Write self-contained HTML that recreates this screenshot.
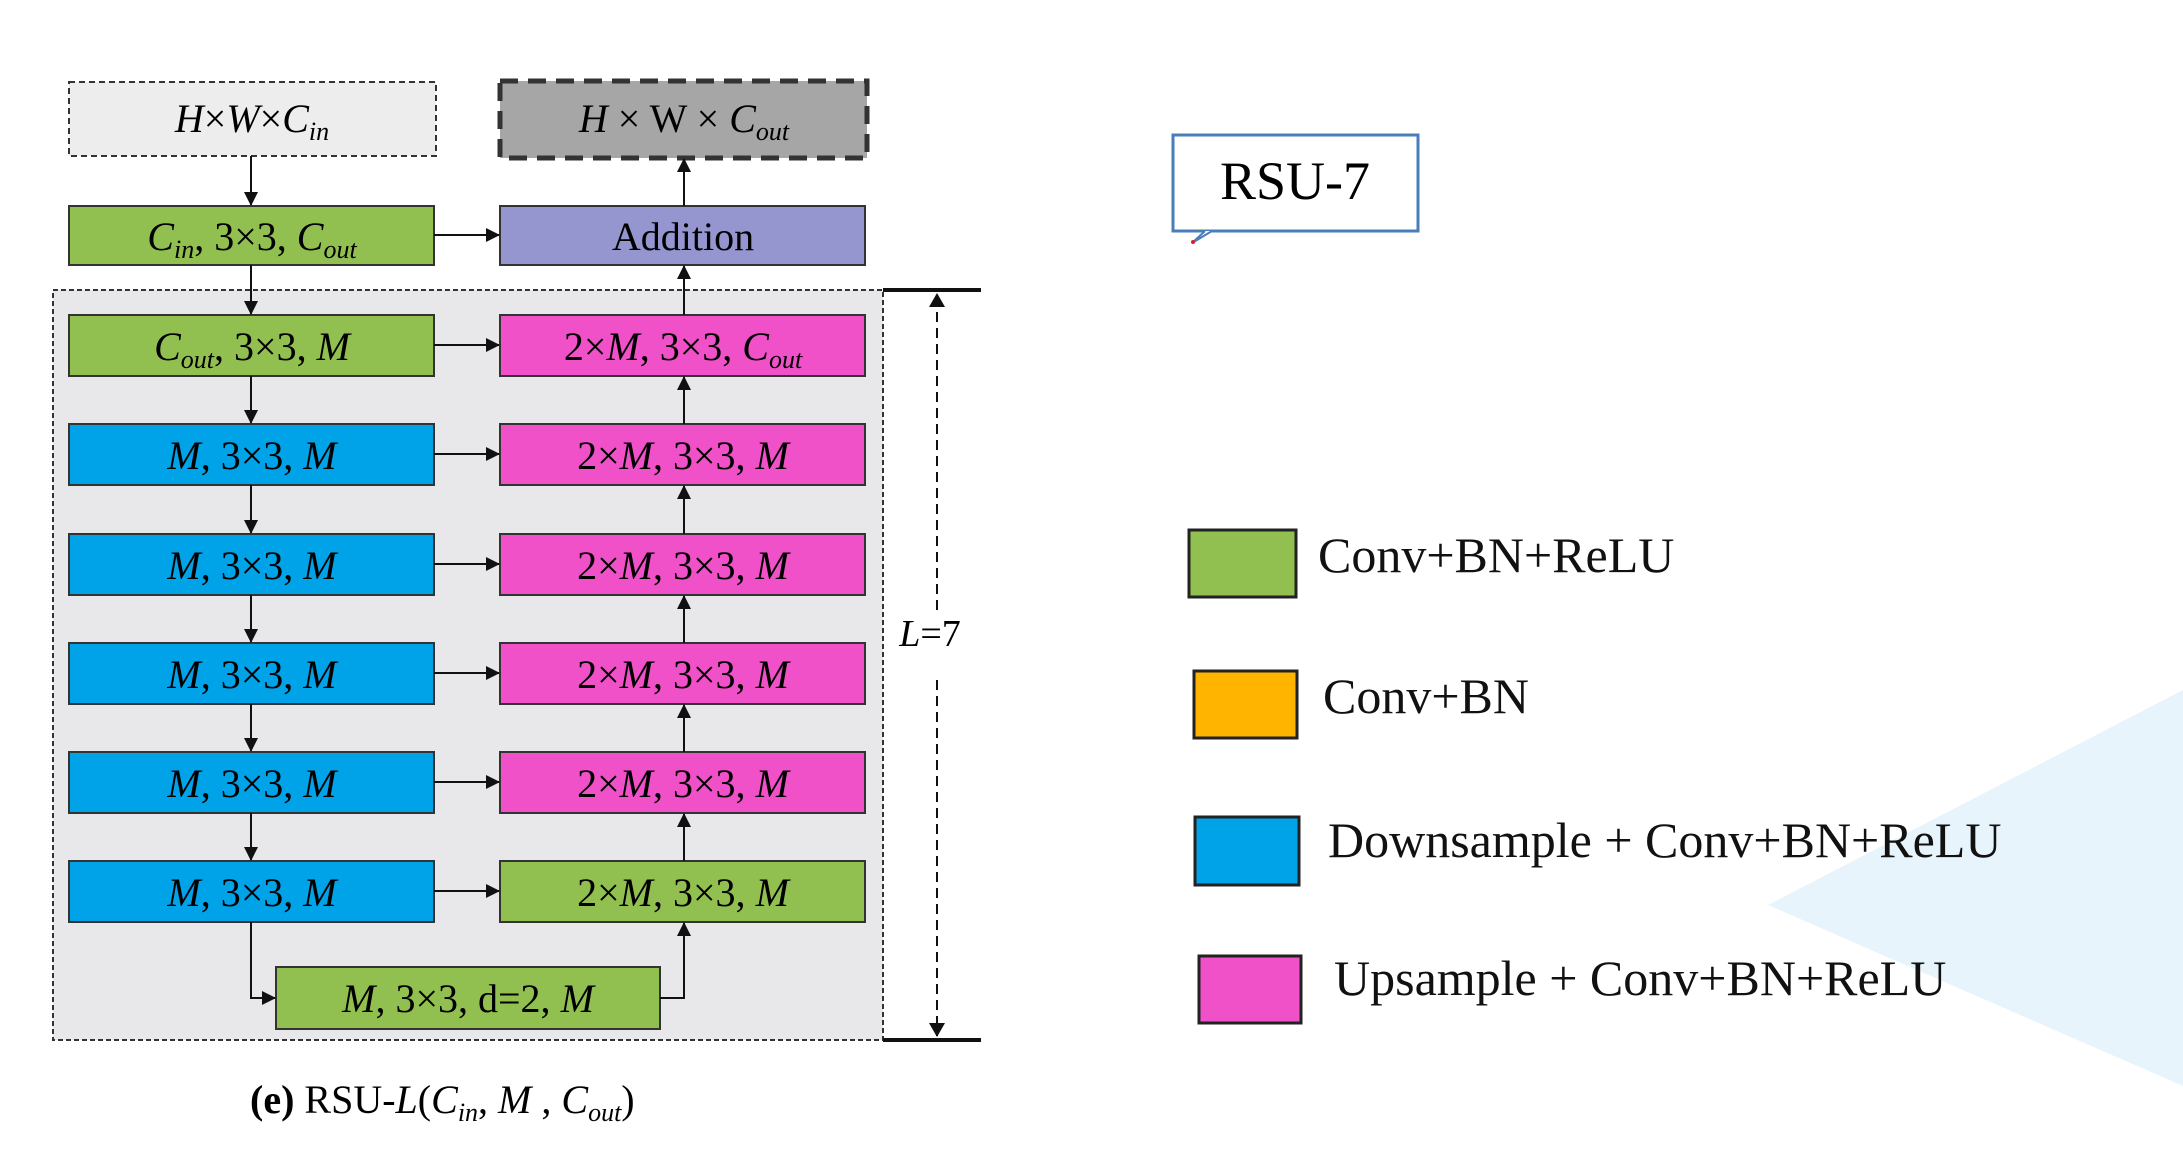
<!DOCTYPE html>
<html><head><meta charset="utf-8"><style>
html,body{margin:0;padding:0;background:#fff;}
svg{display:block;}
text{font-family:"Liberation Serif",serif;}
</style></head><body>
<svg width="2183" height="1169" viewBox="0 0 2183 1169" xmlns="http://www.w3.org/2000/svg">
<defs>
<marker id="a" markerWidth="14" markerHeight="14" refX="13" refY="7" orient="auto" markerUnits="userSpaceOnUse"><path d="M0,0 L14,7 L0,14 z" fill="#111"/></marker>
<marker id="b" markerWidth="14" markerHeight="16" refX="13" refY="8" orient="auto" markerUnits="userSpaceOnUse"><path d="M0,0 L14,8 L0,16 z" fill="#111"/></marker>
</defs>
<rect width="2183" height="1169" fill="#fff"/>
<polygon points="1768,905 2183,690 2183,1086" fill="#e8f4fc"/>
<!-- gray region -->
<rect x="53" y="290" width="830" height="750" fill="#e8e8ea" stroke="#333" stroke-width="2" stroke-dasharray="5,3"/>
<!-- L bar -->
<line x1="883" y1="290" x2="981" y2="290" stroke="#111" stroke-width="4"/>
<line x1="883" y1="1040" x2="981" y2="1040" stroke="#111" stroke-width="4"/>
<line x1="937" y1="610" x2="937" y2="294" stroke="#111" stroke-width="2" stroke-dasharray="10,6" marker-end="url(#b)"/>
<line x1="937" y1="680" x2="937" y2="1036" stroke="#111" stroke-width="2" stroke-dasharray="10,6" marker-end="url(#b)"/>
<text x="930" y="646" font-size="38" font-style="italic" text-anchor="middle">L<tspan font-style="normal">=7</tspan></text>
<!-- input/output -->
<rect x="69" y="82" width="367" height="74" fill="#ededed" stroke="#333" stroke-width="2" stroke-dasharray="6,4"/>
<text x="252" y="132" font-size="40" font-style="italic" text-anchor="middle">H<tspan font-style="normal">×</tspan>W<tspan font-style="normal">×</tspan>C<tspan font-size="26" dy="8">in</tspan></text>
<rect x="500" y="81" width="367" height="77" fill="#a6a6a6" stroke="#333" stroke-width="5" stroke-dasharray="18,10"/>
<text x="684" y="132" font-size="40" text-anchor="middle"><tspan font-style="italic">H</tspan> × W × <tspan font-style="italic">C</tspan><tspan font-size="26" dy="8" font-style="italic">out</tspan></text>
<!-- boxes -->
<g stroke="#333" stroke-width="2">
<rect x="69" y="206" width="365" height="59" fill="#92c050"/>
<rect x="500" y="206" width="365" height="59" fill="#9595d0"/>
<rect x="69" y="315" width="365" height="61" fill="#92c050"/>
<rect x="500" y="315" width="365" height="61" fill="#f050c8"/>
<rect x="69" y="424" width="365" height="61" fill="#00a2e8"/>
<rect x="500" y="424" width="365" height="61" fill="#f050c8"/>
<rect x="69" y="534" width="365" height="61" fill="#00a2e8"/>
<rect x="500" y="534" width="365" height="61" fill="#f050c8"/>
<rect x="69" y="643" width="365" height="61" fill="#00a2e8"/>
<rect x="500" y="643" width="365" height="61" fill="#f050c8"/>
<rect x="69" y="752" width="365" height="61" fill="#00a2e8"/>
<rect x="500" y="752" width="365" height="61" fill="#f050c8"/>
<rect x="69" y="861" width="365" height="61" fill="#00a2e8"/>
<rect x="500" y="861" width="365" height="61" fill="#92c050"/>
<rect x="276" y="967" width="384" height="62" fill="#92c050"/>
</g>
<g font-size="40" text-anchor="middle">
<text x="252" y="250" font-style="italic">C<tspan font-size="26" dy="8">in</tspan><tspan dy="-8" font-style="normal">, 3×3, </tspan>C<tspan font-size="26" dy="8">out</tspan></text>
<text x="683" y="250">Addition</text>
<text x="252" y="360"><tspan font-style="italic">C</tspan><tspan font-size="26" dy="8" font-style="italic">out</tspan><tspan dy="-8">, 3×3, </tspan><tspan font-style="italic">M</tspan></text>
<text x="683" y="360">2×<tspan font-style="italic">M</tspan>, 3×3, <tspan font-style="italic">C</tspan><tspan font-size="26" dy="8" font-style="italic">out</tspan></text>
<text x="252" y="469"><tspan font-style="italic">M</tspan>, 3×3, <tspan font-style="italic">M</tspan></text>
<text x="683" y="469">2×<tspan font-style="italic">M</tspan>, 3×3, <tspan font-style="italic">M</tspan></text>
<text x="252" y="579"><tspan font-style="italic">M</tspan>, 3×3, <tspan font-style="italic">M</tspan></text>
<text x="683" y="579">2×<tspan font-style="italic">M</tspan>, 3×3, <tspan font-style="italic">M</tspan></text>
<text x="252" y="688"><tspan font-style="italic">M</tspan>, 3×3, <tspan font-style="italic">M</tspan></text>
<text x="683" y="688">2×<tspan font-style="italic">M</tspan>, 3×3, <tspan font-style="italic">M</tspan></text>
<text x="252" y="797"><tspan font-style="italic">M</tspan>, 3×3, <tspan font-style="italic">M</tspan></text>
<text x="683" y="797">2×<tspan font-style="italic">M</tspan>, 3×3, <tspan font-style="italic">M</tspan></text>
<text x="252" y="906"><tspan font-style="italic">M</tspan>, 3×3, <tspan font-style="italic">M</tspan></text>
<text x="683" y="906">2×<tspan font-style="italic">M</tspan>, 3×3, <tspan font-style="italic">M</tspan></text>
<text x="468" y="1012"><tspan font-style="italic">M</tspan>, 3×3, d=2, <tspan font-style="italic">M</tspan></text>
</g>
<!-- arrows -->
<g stroke="#111" stroke-width="2" fill="none" marker-end="url(#a)">
<line x1="251" y1="156" x2="251" y2="205"/>
<line x1="251" y1="265" x2="251" y2="314"/>
<line x1="251" y1="376" x2="251" y2="423"/>
<line x1="251" y1="485" x2="251" y2="533"/>
<line x1="251" y1="595" x2="251" y2="642"/>
<line x1="251" y1="704" x2="251" y2="751"/>
<line x1="251" y1="813" x2="251" y2="860"/>
<polyline points="251,922 251,998 275,998"/>
<polyline points="660,998 684,998 684,923"/>
<line x1="684" y1="861" x2="684" y2="814"/>
<line x1="684" y1="752" x2="684" y2="705"/>
<line x1="684" y1="643" x2="684" y2="596"/>
<line x1="684" y1="534" x2="684" y2="486"/>
<line x1="684" y1="424" x2="684" y2="377"/>
<line x1="684" y1="315" x2="684" y2="266"/>
<line x1="684" y1="206" x2="684" y2="159"/>
<line x1="434" y1="235" x2="499" y2="235"/>
<line x1="434" y1="345" x2="499" y2="345"/>
<line x1="434" y1="454" x2="499" y2="454"/>
<line x1="434" y1="564" x2="499" y2="564"/>
<line x1="434" y1="673" x2="499" y2="673"/>
<line x1="434" y1="782" x2="499" y2="782"/>
<line x1="434" y1="891" x2="499" y2="891"/>
</g>
<text x="250" y="1113" font-size="40"><tspan font-weight="bold">(e)</tspan> RSU-<tspan font-style="italic">L</tspan>(<tspan font-style="italic">C</tspan><tspan font-size="26" dy="8" font-style="italic">in</tspan><tspan dy="-8">, </tspan><tspan font-style="italic">M</tspan> , <tspan font-style="italic">C</tspan><tspan font-size="26" dy="8" font-style="italic">out</tspan><tspan dy="-8">)</tspan></text>
<!-- RSU-7 callout -->
<rect x="1173" y="135" width="245" height="96" fill="#fff" stroke="#4a7ebb" stroke-width="3"/>
<path d="M1205,231 L1192,243 L1212,231" fill="#fff" stroke="#4a7ebb" stroke-width="2"/>
<circle cx="1193" cy="242" r="2" fill="#e02020"/>
<text x="1295" y="199" font-size="54" text-anchor="middle">RSU-7</text>
<!-- legend -->
<g stroke="#222" stroke-width="3">
<rect x="1189" y="530" width="107" height="67" fill="#92c050"/>
<rect x="1194" y="671" width="103" height="67" fill="#ffb400"/>
<rect x="1195" y="817" width="104" height="68" fill="#00a2e8"/>
<rect x="1199" y="956" width="102" height="67" fill="#f050c8"/>
</g>
<g font-size="50" fill="#111">
<text x="1318" y="572">Conv+BN+ReLU</text>
<text x="1323" y="713">Conv+BN</text>
<text x="1328" y="857">Downsample + Conv+BN+ReLU</text>
<text x="1334" y="995">Upsample + Conv+BN+ReLU</text>
</g>
</svg>
</body></html>
